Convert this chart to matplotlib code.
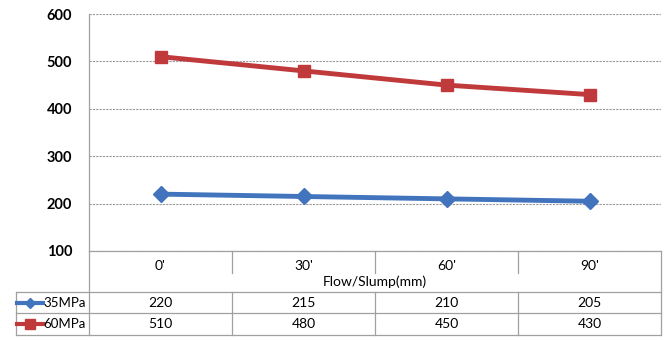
import matplotlib
matplotlib.use("Agg")
import matplotlib.pyplot as plt
from matplotlib.lines import Line2D
from matplotlib.transforms import blended_transform_factory

plt.rcParams['font.family'] = ['Lato', 'DejaVu Sans']

# data
times = ["0'", "30'", "60'", "90'"]
mpa35 = [220, 215, 210, 205]
mpa60 = [510, 480, 450, 430]
series_names = ["35MPa", "60MPa"]
yticks = [100, 200, 300, 400, 500, 600]

blue = "#4274BE"
red = "#C0393B"
W, H = 667, 340

fig = plt.figure(figsize=(W / 100, H / 100), dpi=100)
ax = fig.add_axes([89 / W, 1 - 251 / H, 572 / W, 237 / H])

x = range(len(times))
ax.plot(x, mpa35, color=blue, lw=3.5, marker="D", ms=8, zorder=3)
ax.plot(x, mpa60, color=red, lw=3.5, marker="s", ms=9, zorder=3)

ax.set_xlim(-0.5, len(times) - 0.5)
ax.set_ylim(100, 600)
ax.set_yticks(yticks)
ax.set_yticklabels([str(v) for v in yticks], fontsize=10.5, fontweight="bold")
ax.tick_params(axis="y", length=0, pad=12)
ax.set_xticks([])
ax.yaxis.grid(True, color="#9a9a9a", ls=(0, (2, 1)), lw=0.8)
for s in ["top", "right", "bottom"]:
    ax.spines[s].set_visible(False)
ax.spines["left"].set_color("#a0a0a0")
ax.spines["left"].set_linewidth(0.9)


def px(xp, yp):
    return xp / W, 1 - yp / H


def hline(x0, x1, y):
    a, b = px(x0, y)
    c, d = px(x1, y)
    fig.add_artist(Line2D([a, c], [b, d], transform=fig.transFigure, color="#a0a0a0", lw=0.9))


def vline(xp, y0, y1):
    a, b = px(xp, y0)
    c, d = px(xp, y1)
    fig.add_artist(Line2D([a, c], [b, d], transform=fig.transFigure, color="#a0a0a0", lw=0.9))


# table grid
hline(89, 661, 251)
hline(16, 661, 292)
hline(16, 661, 313)
hline(16, 661, 335)
vline(89, 251, 335)
vline(661, 251, 335)
vline(16, 292, 335)
for xp in [232, 375, 518]:
    vline(xp, 251, 273)
    vline(xp, 292, 335)

tr = blended_transform_factory(ax.transData, fig.transFigure)
for i, t in enumerate(times):
    fig.text(i, px(0, 266)[1], t, transform=tr, ha="center", va="center", fontsize=10)
    fig.text(i, px(0, 303)[1], str(mpa35[i]), transform=tr, ha="center", va="center", fontsize=10)
    fig.text(i, px(0, 324)[1], str(mpa60[i]), transform=tr, ha="center", va="center", fontsize=10)

fig.text(*px(375, 282), "Flow/Slump(mm)", ha="center", va="center", fontsize=10)

# legend keys in table
for yp, name, col, mk, ms in [(303, series_names[0], blue, "D", 5), (324, series_names[1], red, "s", 7)]:
    a, b = px(17, yp)
    c, _ = px(43, yp)
    m, _ = px(30, yp)
    fig.add_artist(Line2D([a, c], [b, b], transform=fig.transFigure, color=col, lw=3))
    fig.add_artist(Line2D([m], [b], transform=fig.transFigure, color=col, marker=mk, ms=ms, lw=0))
    fig.text(*px(86, yp), name, ha="right", va="center", fontsize=9.5)

fig.savefig("out.png", dpi=100)
